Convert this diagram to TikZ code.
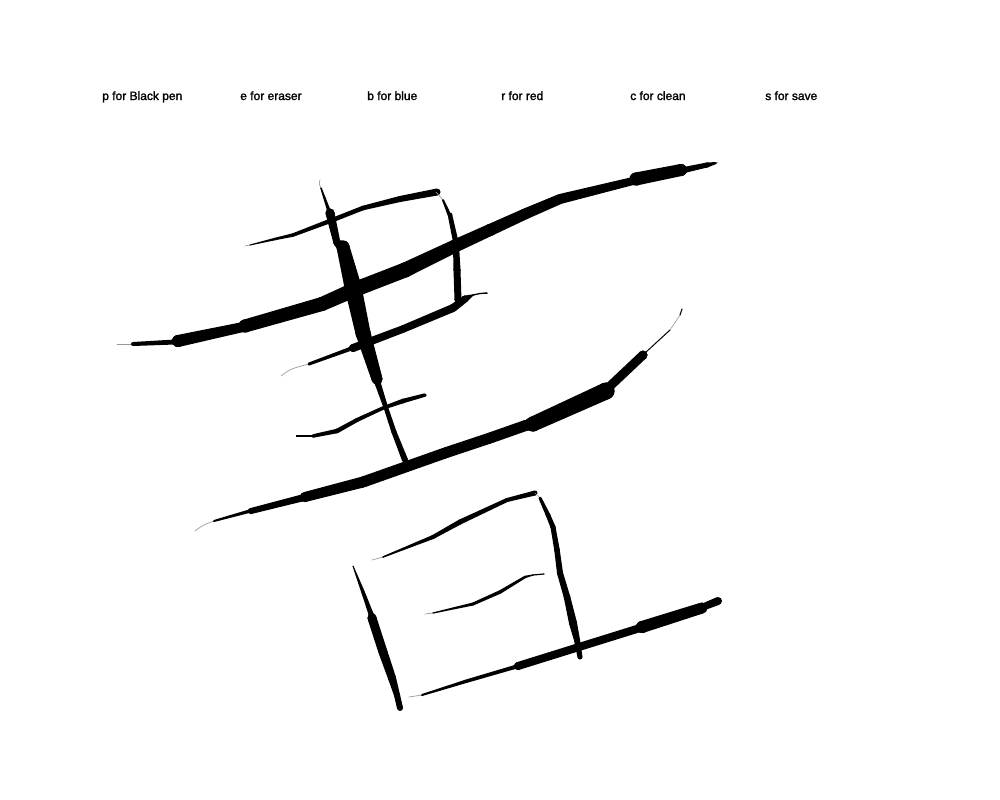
\documentclass[tikz,border=0pt]{standalone}
\usepackage{fontspec}
\usetikzlibrary{calc}
\newfontfamily\labfont[FakeBold=1.6]{Liberation Sans}
\tikzset{
  labeltext/.style={inner sep=0pt,anchor=base west,font=\labfont\fontsize{9}{10}\selectfont},
  hair/.style={draw=black!40,line width=0.5pt,line cap=round,line join=round},
}
\newcommand{\tp}[6]{%
  \coordinate (A) at (#1,#2);
  \coordinate (B) at (#4,#5);
  \fill[black] ($(A)!#3*0.375pt!90:(B)$) -- ($(A)!#3*0.375pt!-90:(B)$) -- ($(B)!#6*0.375pt!90:(A)$) -- ($(B)!#6*0.375pt!-90:(A)$) -- cycle;
  \fill[black] (A) circle[radius=#3*0.375pt];
  \fill[black] (B) circle[radius=#6*0.375pt];
}
\newcommand{\chain}[1]{%
  \foreach \x/\y/\w [count=\i, remember=\x as \px, remember=\y as \py, remember=\w as \pw] in {#1} {%
    \ifnum\i>1 \tp{\px}{\py}{\pw}{\x}{\y}{\w}\fi
  }%
}
\begin{document}
\begin{tikzpicture}[x=0.75pt,y=-0.75pt]
\useasboundingbox (0,0) rectangle (1000,800);
\fill[white] (0,0) rectangle (1000,800);
\node[labeltext] (t1) at (102,100) {p for Black pen};
\node[labeltext] (t2) at (240,100) {e for eraser};
\node[labeltext] (t3) at (367,100) {b for blue};
\node[labeltext] (t4) at (501,100) {r for red};
\node[labeltext] (t5) at (630,100) {c for clean};
\node[labeltext] (t6) at (765,100) {s for save};
% main top stroke
\draw[hair] (117,344) -- (133,344);
\chain{133/344/4, 175/342/5, 178/341/12, 243/327/10, 245/326/13, 322/304/14, 356/289/15, 405/270/15, 455/246/13, 490/230/12, 525/214/11, 560/199/10, 633/181/8, 636/179/13, 681/170/12, 684/170/6, 707/165/5, 716/163/2}
\draw[hair] (716,163) -- (718,162);
% thick vertical stroke
\draw[hair] (320,180) .. controls (319,184) .. (321,188);
\chain{321/188/1.5, 329/211/3.5, 330/213/9, 337/243/7, 343/247/13, 353/287/17, 363/333/15, 377/379/11, 378/384/6, 386/408/4.5, 394/432/5, 405/460/6}
% upper horizontal
\draw[hair] (245,246) -- (250,245);
\chain{250/245/1, 275/239/2.5, 293/235/3.5, 330/221/4.5, 363/208/4.5, 400/199/6, 437/192/7}
% right vertical
\draw[hair] (436,192) -- (443,200);
\chain{443/200/2, 449/214/3.5, 450/215/4.5, 456/243/5.5, 456/245/6, 457/270/7, 458/300/7}
% stroke E
\draw[hair] (281,376) .. controls (290,369) .. (309,364);
\chain{309/364/3, 350/349/4, 353/348/8, 403/329/7.5, 453/308/8, 465/299/7, 473/295/1.5, 480/293.5/1.2, 487/293/1.5}
% stroke F
\draw[black,line width=0.9pt] (296,436) -- (313,436);
\chain{313/436/3.5, 337/431/4.5, 357/420/4, 383/408/3.5, 403/401/4.5, 425/395/3.5}
% long lower
\draw[hair] (195,531) .. controls (203,525) .. (214,521);
\chain{214/521/2, 250/511/3.5, 251/511/6, 302/498/7, 305/497/10, 363/482/11, 445/453/11, 490/438/11, 527/425/11, 533/424/15, 606/391/17, 608/388/9, 643/355/9, 645/353/1, 670/330/1}
\draw[hair] (670,330) .. controls (675,323) .. (680,315);
\chain{680/315/1, 682/309/1}
% box top
\draw[hair] (372,560) -- (383,557);
\chain{383/557/1.5, 433/537/4, 460/522/5, 507/500/4, 535/493/5}
% box right
\draw[hair] (535,493) -- (540,498);
\chain{540/498/3, 548/515/4.5, 553/527/5, 557/550/5.5, 560/573/6, 567/597/6.5, 573/623/8, 577/640/6, 580/657/5}
% inner
\draw[hair] (425,614) -- (433,613);
\chain{433/613/1.2, 473/604/3, 500/592/3.5, 525/577/2.5, 533/575/1.2, 544/574/1.2}
% box left
\chain{353/566/1, 363/592/3.5, 371/614/5, 372/618/9, 383/652/9, 392/678/8, 397/695/6, 400/708/6}
% bottom
\draw[hair] (409,697) -- (422,695);
\chain{422/695/2, 467/681/3.5, 515/667/4, 518/666/8, 640/628/8, 642/627/12, 702/608/11, 703/607/7, 718/601/8}
\end{tikzpicture}
\end{document}
